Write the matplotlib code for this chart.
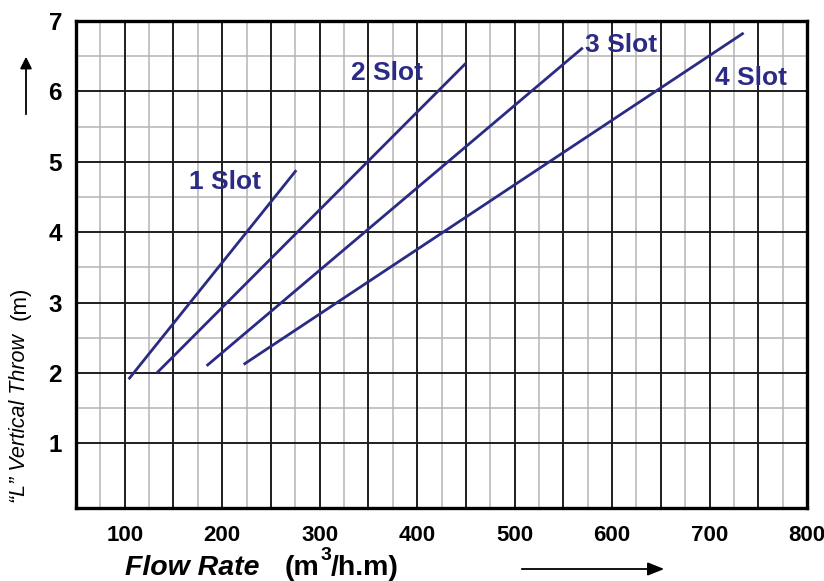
import numpy as np
import matplotlib
matplotlib.use('Agg')
import matplotlib.pyplot as plt

plt.rcParams['font.family'] = ['Liberation Sans', 'DejaVu Sans']

#####################################################################
# Datos: caudal (m3/h.m) vs alcance vertical (m)
slot_names = ['1 Slot', '2 Slot', '3 Slot', '4 Slot']
slot_x = [
    [104, 276],
    [133, 450],
    [184, 570],
    [222, 735],
]
slot_y = [
    [1.91, 4.88],
    [2.00, 6.40],
    [2.10, 6.62],
    [2.12, 6.83],
]
# donde va cada etiqueta (coordenadas de datos)
label_x = [166, 332, 572, 706]
label_y = [4.71, 6.26, 6.66, 6.19]

x_ticks = [100, 200, 300, 400, 500, 600, 700, 800]
y_ticks = [1, 2, 3, 4, 5, 6, 7]

navy = '#2b2a85'

W, H = 824, 581
fig = plt.figure(figsize=(W / 100, H / 100), dpi=100)

# ejes ubicados en pixeles como en la figura original
left, right, top, bottom = 76, 807, 21, 508
ax = fig.add_axes([left / W, 1 - bottom / H, (right - left) / W, (bottom - top) / H])
ax.set_xlim(50, 800)
ax.set_ylim(0.08, 7)

# grilla: lineas finas cada 25 / 0.5, gruesas cada 50 / 1
for xv in np.arange(75, 800, 50):
    ax.axvline(xv, color='#b4b4b4', lw=1.1, zorder=1)
for yv in np.arange(1.5, 7, 1.0):
    ax.axhline(yv, color='#b4b4b4', lw=1.1, zorder=1)
for xv in np.arange(100, 800, 50):
    ax.axvline(xv, color='#1e1e1e', lw=1.4, zorder=2)
for yv in np.arange(1, 7, 1):
    ax.axhline(yv, color='#1e1e1e', lw=1.4, zorder=2)

for i in range(len(slot_names)):
    ax.plot(slot_x[i], slot_y[i], color=navy, lw=2.0, zorder=4, solid_capstyle='butt')
    ax.text(label_x[i], label_y[i], slot_names[i], color=navy, fontsize=19,
            fontweight='bold', ha='left', va='center', zorder=5)

ax.set_xticks(x_ticks)
ax.set_yticks(y_ticks)
ax.tick_params(axis='x', length=0, pad=12, labelsize=16)
ax.tick_params(axis='y', length=0, pad=10, labelsize=17.5)
for lab in ax.get_xticklabels() + ax.get_yticklabels():
    lab.set_fontweight('bold')

for s in ax.spines.values():
    s.set_linewidth(2.4)
    s.set_zorder(6)

# titulos de los ejes
fig.text(20 / W, 1 - 503 / H, '\u201cL\u201d Vertical Throw', rotation=90,
         fontsize=15.5, fontstyle='italic', ha='center', va='bottom')
fig.text(20 / W, 1 - 287 / H, '(m)', rotation=90, fontsize=16, ha='center', va='top')

fig.text(125 / W, 1 - 568 / H, 'Flow Rate', fontsize=20.5, fontweight='bold',
         fontstyle='italic', ha='left', va='center')
fig.text(285 / W, 1 - 568 / H, '(m', fontsize=20.5, fontweight='bold', ha='left', va='center')
fig.text(321 / W, 1 - 556 / H, '3', fontsize=14, fontweight='bold', ha='left', va='center')
fig.text(331 / W, 1 - 568 / H, '/h.m)', fontsize=20.5, fontweight='bold', ha='left', va='center')

# flechas
fig.patches.append(matplotlib.patches.FancyArrowPatch(
    (26 / W, 1 - 117 / H), (26 / W, 1 - 54 / H), transform=fig.transFigure,
    arrowstyle='-|>,head_length=7,head_width=3.5', color='black', lw=1.3))
fig.patches.append(matplotlib.patches.FancyArrowPatch(
    (519 / W, 1 - 569 / H), (667 / W, 1 - 569 / H), transform=fig.transFigure,
    arrowstyle='-|>,head_length=10,head_width=4', color='black', lw=1.3))

plt.savefig('out.png', dpi=100)
